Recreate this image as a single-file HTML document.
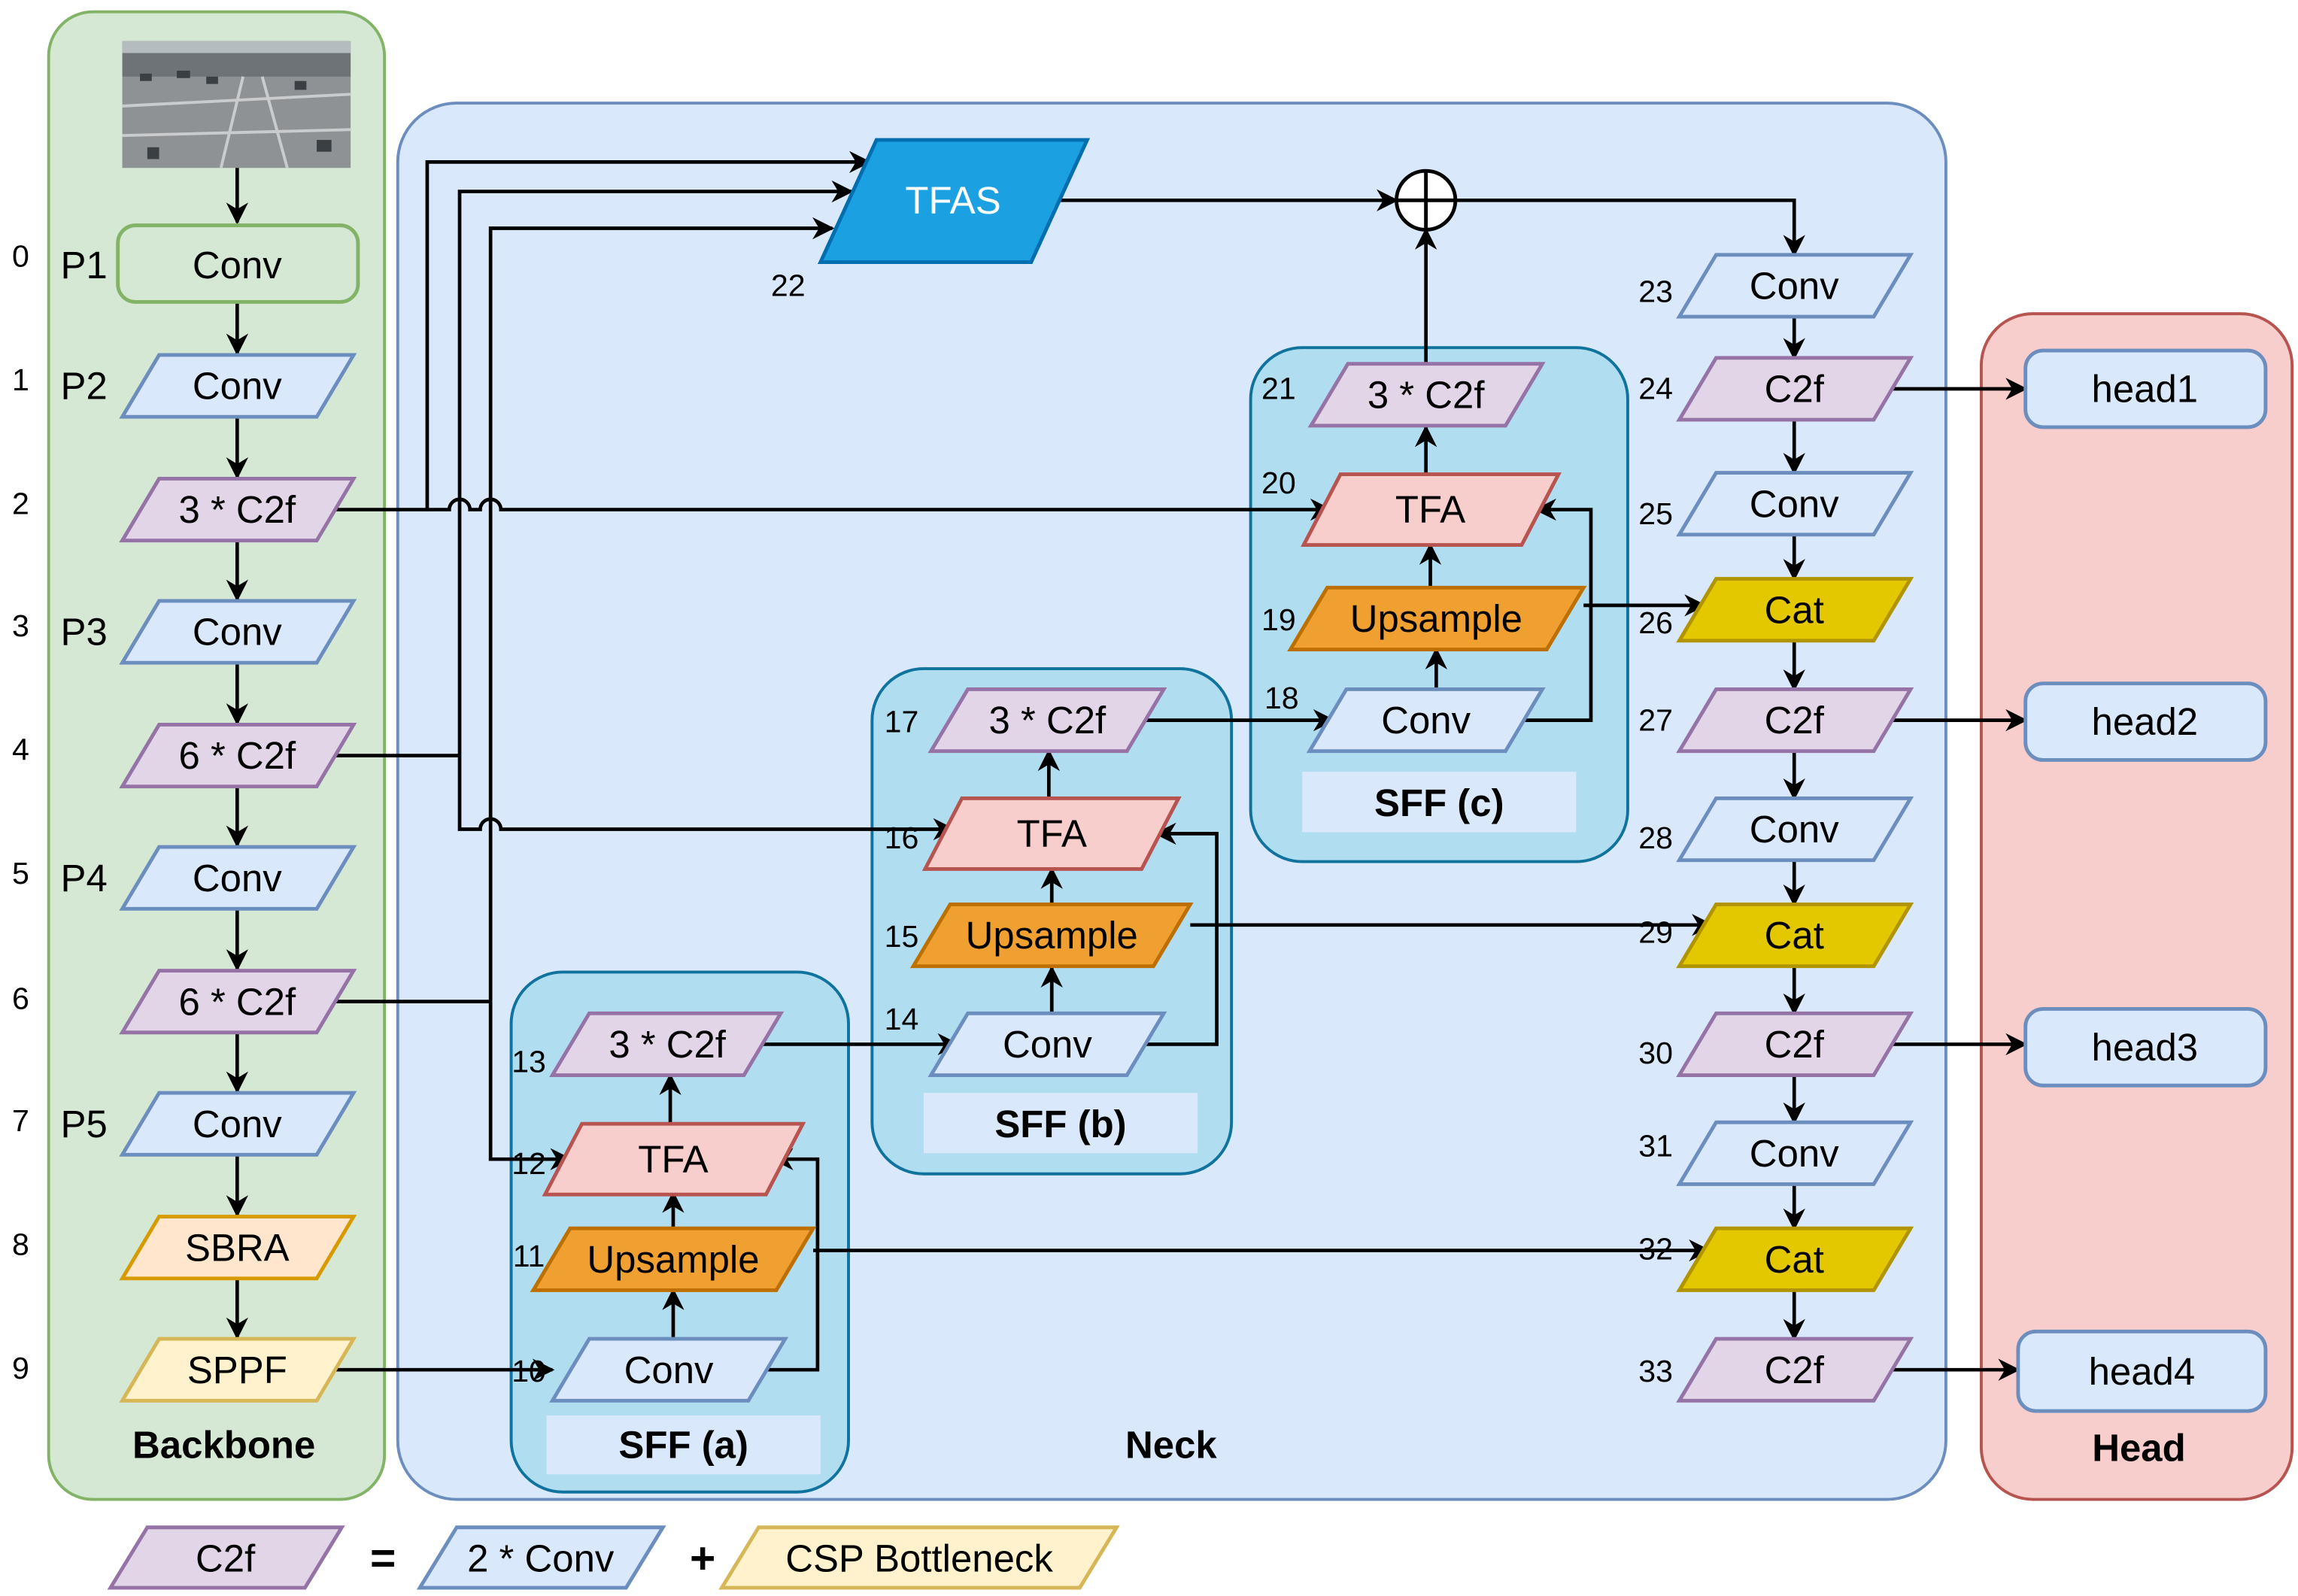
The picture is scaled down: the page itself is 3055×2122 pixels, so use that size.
<!DOCTYPE html>
<html><head><meta charset="utf-8"><style>html,body{margin:0;padding:0;background:#fff}svg{display:block}</style></head><body>
<svg xmlns="http://www.w3.org/2000/svg" width="3055" height="2122" viewBox="0 0 1560 1083.6" font-family="Liberation Sans, Arial, sans-serif">
<defs>
<marker id="a" viewBox="0 0 10 10" refX="9" refY="5" markerWidth="15" markerHeight="15" orient="auto" markerUnits="userSpaceOnUse"><path d="M0,0 L10,5 L0,10 L3,5 z" fill="#000"/></marker>
</defs>
<rect width="1560" height="1084" fill="#fff"/>
<!-- containers -->
<rect x="33" y="8" width="228" height="1010" rx="30" fill="#d5e8d4" stroke="#82b366" stroke-width="2"/>
<rect x="270" y="70" width="1051" height="948" rx="40" fill="#dae8fc" stroke="#6c8ebf" stroke-width="2"/>
<rect x="1345" y="213" width="211" height="805" rx="35" fill="#f8cecc" stroke="#b85450" stroke-width="2"/>
<rect x="347" y="660" width="229" height="353" rx="35" fill="#b1ddf0" stroke="#10739e" stroke-width="2"/>
<rect x="592" y="454" width="244" height="343" rx="35" fill="#b1ddf0" stroke="#10739e" stroke-width="2"/>
<rect x="849" y="236" width="256" height="349" rx="35" fill="#b1ddf0" stroke="#10739e" stroke-width="2"/>
<rect x="371" y="961" width="186" height="40" fill="#dae8fc"/>
<rect x="627" y="742" width="186" height="41" fill="#dae8fc"/>
<rect x="884" y="524" width="186" height="41" fill="#dae8fc"/>
<g font-size="26" font-weight="bold" text-anchor="middle" fill="#000">
<text x="152" y="990">Backbone</text><text x="795" y="990">Neck</text><text x="1452" y="992">Head</text>
<text x="464" y="990">SFF (a)</text><text x="720" y="772">SFF (b)</text><text x="977" y="554">SFF (c)</text>
</g>
<!-- photo -->
<rect x="83" y="28" width="155" height="86" fill="#8f9294"/>
<rect x="83" y="28" width="155" height="24" fill="#6e7378"/>
<rect x="83" y="28" width="155" height="8" fill="#b5bcc0"/>
<path d="M83,72 L238,64 M83,92 L238,88 M150,114 L165,52 M195,114 L178,52" stroke="#c9cbcd" stroke-width="2" fill="none"/>
<g fill="#3a3f44"><rect x="95" y="50" width="8" height="5"/><rect x="120" y="48" width="9" height="5"/><rect x="140" y="52" width="8" height="5"/><rect x="200" y="55" width="8" height="6"/><rect x="215" y="95" width="10" height="8"/><rect x="100" y="100" width="8" height="8"/></g>
<!-- edges -->
<g stroke="#000" stroke-width="2.4" fill="none">
<g marker-end="url(#a)">
<path d="M161,114 V151"/><path d="M161,205 V240"/><path d="M161,283 V324"/><path d="M161,367 V407"/><path d="M161,450 V491"/><path d="M161,534 V574"/><path d="M161,617 V658"/><path d="M161,701 V741"/><path d="M161,784 V825"/><path d="M161,868 V908"/>
<path d="M226,930 H375"/>
<path d="M457,909 V876"/><path d="M515,930 H555 V787 H525"/><path d="M457,834 V810"/><path d="M455,763 V730"/>
<path d="M513,709 H650"/><path d="M552,849 H1160"/>
<path d="M714,688 V657"/><path d="M775,709 H826 V566 H785"/><path d="M714,613 V590"/><path d="M712,542 V510"/><path d="M808,628 H1162"/>
<path d="M771,489 H905"/><path d="M975,468 V441"/><path d="M1032,489 H1080 V346 H1043"/><path d="M1075,411 H1157"/><path d="M971,399 V370"/><path d="M968,322 V290"/><path d="M968,247 V156"/>
<path d="M720,136 H948"/><path d="M988,136 H1218 V173"/>
<path d="M1218,215 V243"/><path d="M1218,285 V321"/><path d="M1218,363 V393"/><path d="M1218,435 V468"/><path d="M1218,510 V542"/><path d="M1218,584 V614"/><path d="M1218,656 V688"/><path d="M1218,730 V762"/><path d="M1218,804 V834"/><path d="M1218,876 V909"/>
<path d="M1282,264 H1375"/><path d="M1282,489 H1375"/><path d="M1282,709 H1375"/><path d="M1280,930 H1370"/>
<path d="M226,346 H305 a7,7 0 0 1 14,0 H326 a7,7 0 0 1 14,0 H903"/>
<path d="M290,346 V110 H590"/>
<path d="M312,513 V130 H578"/>
<path d="M312,513 V563 H326 a7,7 0 0 1 14,0 H647"/>
<path d="M333,680 V155 H565"/>
<path d="M333,680 V787 H387"/>
</g>
<path d="M226,513 H312"/><path d="M226,680 H333"/>
</g>
<circle cx="968" cy="136" r="20" fill="#fff" stroke="#000" stroke-width="2.5"/>
<path d="M948,136 H988 M968,116 V156" stroke="#000" stroke-width="2.5"/>
<!-- nodes -->
<g stroke-width="2.5">
<rect x="80" y="153" width="163" height="52" rx="12" fill="#d5e8d4" stroke="#82b366"/>
<polygon points="108,241 240,241 215,283 83,283" fill="#dae8fc" stroke="#6c8ebf"/>
<polygon points="108,325 240,325 215,367 83,367" fill="#e1d5e7" stroke="#9673a6"/>
<polygon points="108,408 240,408 215,450 83,450" fill="#dae8fc" stroke="#6c8ebf"/>
<polygon points="108,492 240,492 215,534 83,534" fill="#e1d5e7" stroke="#9673a6"/>
<polygon points="108,575 240,575 215,617 83,617" fill="#dae8fc" stroke="#6c8ebf"/>
<polygon points="108,659 240,659 215,701 83,701" fill="#e1d5e7" stroke="#9673a6"/>
<polygon points="108,742 240,742 215,784 83,784" fill="#dae8fc" stroke="#6c8ebf"/>
<polygon points="108,826 240,826 215,868 83,868" fill="#ffe6cc" stroke="#d79b00"/>
<polygon points="108,909 240,909 215,951 83,951" fill="#fff2cc" stroke="#d6b656"/>
<polygon points="400,909 533,909 508,951 375,951" fill="#dae8fc" stroke="#6c8ebf"/>
<polygon points="387,834 552,834 527,876 362,876" fill="#f0a030" stroke="#bd7000"/>
<polygon points="395,763 545,763 520,811 370,811" fill="#f8cecc" stroke="#b85450"/>
<polygon points="400,688 530,688 505,730 375,730" fill="#e1d5e7" stroke="#9673a6"/>
<polygon points="657,688 790,688 765,730 632,730" fill="#dae8fc" stroke="#6c8ebf"/>
<polygon points="645,614 808,614 783,656 620,656" fill="#f0a030" stroke="#bd7000"/>
<polygon points="653,542 800,542 775,590 628,590" fill="#f8cecc" stroke="#b85450"/>
<polygon points="657,468 790,468 765,510 632,510" fill="#e1d5e7" stroke="#9673a6"/>
<polygon points="914,468 1047,468 1022,510 889,510" fill="#dae8fc" stroke="#6c8ebf"/>
<polygon points="901,399 1075,399 1050,441 876,441" fill="#f0a030" stroke="#bd7000"/>
<polygon points="910,322 1058,322 1033,370 885,370" fill="#f8cecc" stroke="#b85450"/>
<polygon points="915,247 1047,247 1022,289 890,289" fill="#e1d5e7" stroke="#9673a6"/>
<polygon points="595,95 738,95 700,178 557,178" fill="#1ba1e2" stroke="#006eaf"/>
<polygon points="1165,173 1297,173 1272,215 1140,215" fill="#dae8fc" stroke="#6c8ebf"/>
<polygon points="1165,243 1297,243 1272,285 1140,285" fill="#e1d5e7" stroke="#9673a6"/>
<polygon points="1165,321 1297,321 1272,363 1140,363" fill="#dae8fc" stroke="#6c8ebf"/>
<polygon points="1165,393 1297,393 1272,435 1140,435" fill="#e3c800" stroke="#b09500"/>
<polygon points="1165,468 1297,468 1272,510 1140,510" fill="#e1d5e7" stroke="#9673a6"/>
<polygon points="1165,542 1297,542 1272,584 1140,584" fill="#dae8fc" stroke="#6c8ebf"/>
<polygon points="1165,614 1297,614 1272,656 1140,656" fill="#e3c800" stroke="#b09500"/>
<polygon points="1165,688 1297,688 1272,730 1140,730" fill="#e1d5e7" stroke="#9673a6"/>
<polygon points="1165,762 1297,762 1272,804 1140,804" fill="#dae8fc" stroke="#6c8ebf"/>
<polygon points="1165,834 1297,834 1272,876 1140,876" fill="#e3c800" stroke="#b09500"/>
<polygon points="1165,909 1297,909 1272,951 1140,951" fill="#e1d5e7" stroke="#9673a6"/>
<rect x="1375" y="238" width="163" height="52" rx="12" fill="#dae8fc" stroke="#6c8ebf"/>
<rect x="1375" y="464" width="163" height="52" rx="12" fill="#dae8fc" stroke="#6c8ebf"/>
<rect x="1375" y="685" width="163" height="52" rx="12" fill="#dae8fc" stroke="#6c8ebf"/>
<rect x="1370" y="904" width="168" height="54" rx="12" fill="#dae8fc" stroke="#6c8ebf"/>
<polygon points="100,1037 232,1037 207,1078 75,1078" fill="#e1d5e7" stroke="#9673a6"/>
<polygon points="310,1037 450,1037 425,1078 285,1078" fill="#dae8fc" stroke="#6c8ebf"/>
<polygon points="515,1037 758,1037 733,1078 490,1078" fill="#fff2cc" stroke="#d6b656"/>
</g>
<g font-size="26" text-anchor="middle" fill="#000">
<text x="161" y="189">Conv</text><text x="161" y="271">Conv</text><text x="161" y="355">3 * C2f</text><text x="161" y="438">Conv</text><text x="161" y="522">6 * C2f</text><text x="161" y="605">Conv</text><text x="161" y="689">6 * C2f</text><text x="161" y="772">Conv</text><text x="161" y="856">SBRA</text><text x="161" y="939">SPPF</text>
<text x="454" y="939">Conv</text><text x="457" y="864">Upsample</text><text x="457" y="796">TFA</text><text x="453" y="718">3 * C2f</text>
<text x="711" y="718">Conv</text><text x="714" y="644">Upsample</text><text x="714" y="575">TFA</text><text x="711" y="498">3 * C2f</text>
<text x="968" y="498">Conv</text><text x="975" y="429">Upsample</text><text x="971" y="355">TFA</text><text x="968" y="277">3 * C2f</text>
<text x="647" y="145" fill="#fff">TFAS</text>
<text x="1218" y="203">Conv</text><text x="1218" y="273">C2f</text><text x="1218" y="351">Conv</text><text x="1218" y="423">Cat</text><text x="1218" y="498">C2f</text><text x="1218" y="572">Conv</text><text x="1218" y="644">Cat</text><text x="1218" y="718">C2f</text><text x="1218" y="792">Conv</text><text x="1218" y="864">Cat</text><text x="1218" y="939">C2f</text>
<text x="1456" y="273">head1</text><text x="1456" y="499">head2</text><text x="1456" y="720">head3</text><text x="1454" y="940">head4</text>
<text x="153" y="1067">C2f</text><text x="367" y="1067">2 * Conv</text><text x="624" y="1067">CSP Bottleneck</text>
<text x="57" y="189">P1</text><text x="57" y="271">P2</text><text x="57" y="438">P3</text><text x="57" y="605">P4</text><text x="57" y="772">P5</text>
<text x="260" y="1068" font-weight="bold" font-size="30">=</text><text x="477" y="1068" font-weight="bold" font-size="30">+</text>
</g>
<g font-size="21" text-anchor="middle" fill="#000">
<text x="14" y="181">0</text><text x="14" y="265">1</text><text x="14" y="349">2</text><text x="14" y="432">3</text><text x="14" y="516">4</text><text x="14" y="600">5</text><text x="14" y="685">6</text><text x="14" y="768">7</text><text x="14" y="852">8</text><text x="14" y="936">9</text>
<text x="535" y="201">22</text><text x="1124" y="205">23</text><text x="1124" y="271">24</text><text x="1124" y="356">25</text><text x="1124" y="430">26</text><text x="1124" y="496">27</text><text x="1124" y="576">28</text><text x="1124" y="640">29</text><text x="1124" y="722">30</text><text x="1124" y="785">31</text><text x="1124" y="855">32</text><text x="1124" y="938">33</text>
<text x="868" y="271">21</text><text x="868" y="335">20</text><text x="868" y="428">19</text><text x="870" y="481">18</text><text x="612" y="497">17</text><text x="612" y="576">16</text><text x="612" y="643">15</text><text x="612" y="699">14</text><text x="359" y="728">13</text><text x="359" y="797">12</text><text x="359" y="860">11</text><text x="359" y="938">10</text>
</g>
</svg>
</body></html>
